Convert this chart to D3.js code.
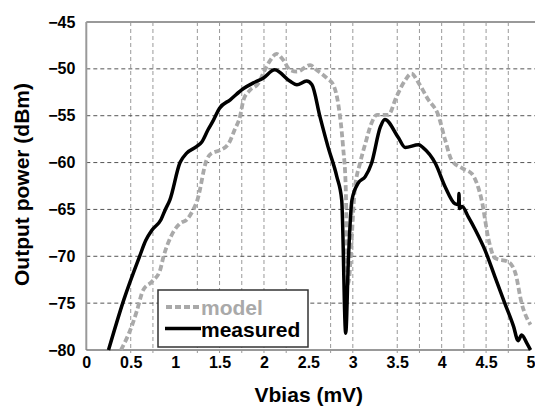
<!DOCTYPE html>
<html>
<head>
<meta charset="utf-8">
<script src="https://cdn.jsdelivr.net/npm/d3@7"></script>
<style>
  body { margin: 0; background: #fff; }
  svg text { font-family: "Liberation Sans", Arial, sans-serif; font-weight: bold; }
</style>
</head>
<body>
<svg id="chart" width="535" height="406"></svg>
<script>
// measured curve
const vbiasMeasured = [0.25, 0.42, 0.6, 0.67, 0.74, 0.84, 0.89, 0.94, 1.055, 1.13, 1.24, 1.3, 1.37, 1.43, 1.5, 1.62, 1.77, 1.88, 1.99, 2.12,
  2.29, 2.37, 2.48, 2.54, 2.63, 2.72, 2.82, 2.875, 2.92, 2.95, 2.99, 3.06, 3.14, 3.21, 3.31, 3.36, 3.51, 3.59, 3.74, 3.79,
  3.93, 4.04, 4.15, 4.19, 4.195, 4.2, 4.23, 4.3, 4.38, 4.49, 4.6, 4.71, 4.81, 4.86, 4.9, 4.96, 5.0]
const powerMeasured = [-80.0, -74.7, -70.0, -68.3, -67.2, -66.1, -65.0, -64.0, -60.0, -59.0, -58.3, -57.8, -56.5, -55.5, -54.2, -53.3, -52.1, -51.5, -51.0, -50.1,
  -51.3, -51.7, -51.3, -51.7, -55.1, -58.3, -61.5, -64.0, -78.2, -70.4, -64.0, -62.2, -61.5, -60.1, -56.2, -55.4, -57.3, -58.4, -58.1, -58.4,
  -60.1, -62.6, -64.4, -64.5, -63.3, -64.9, -64.7, -65.8, -67.2, -69.4, -72.2, -75.0, -77.5, -79.0, -78.4, -79.3, -80.0]

// model curve
const vbiasModel = [0.39, 0.51, 0.57, 0.64, 0.74, 0.83, 0.87, 0.92, 0.98, 1.055, 1.13, 1.2, 1.25, 1.355, 1.41, 1.5, 1.6, 1.67, 1.73, 1.77,
  1.84, 1.94, 2.01, 2.07, 2.14, 2.22, 2.29, 2.37, 2.52, 2.59, 2.71, 2.78, 2.84, 2.89, 2.92, 2.945, 3.025, 3.08, 3.14, 3.21,
  3.27, 3.4, 3.49, 3.59, 3.66, 3.74, 3.85, 3.96, 4.04, 4.11, 4.23, 4.34, 4.41, 4.45, 4.53, 4.6, 4.75, 4.83, 4.9, 5.0]
const powerModel = [-80.0, -77.5, -75.8, -73.6, -72.7, -71.5, -70.0, -68.6, -67.4, -66.5, -66.1, -65.1, -64.0, -59.7, -59.0, -58.7, -58.0, -56.5, -55.1, -53.3,
  -52.3, -51.5, -50.1, -49.1, -48.4, -49.1, -50.1, -50.3, -49.6, -50.1, -51.0, -51.7, -54.0, -58.3, -62.6, -73.0, -62.6, -60.1, -58.0, -55.8,
  -54.9, -54.9, -53.0, -51.2, -50.5, -51.5, -53.3, -54.9, -57.6, -59.7, -60.6, -61.2, -62.6, -64.0, -68.3, -70.2, -70.6, -71.8, -75.0, -77.3]

const xTicks = [0, 0.5, 1, 1.5, 2, 2.5, 3, 3.5, 4, 4.5, 5]
const xTickLabels = ['0', '0.5', '1', '1.5', '2', '2.5', '3', '3.5', '4', '4.5', '5']
const yTicks = [-45, -50, -55, -60, -65, -70, -75, -80]
const xGrid = [0.5, 0.75, 1.25, 1.5, 1.75, 2, 2.25, 2.75, 3, 3.5, 3.75, 4, 4.25, 4.5, 4.75]
const yGrid = [-50, -55, -60, -65, -70, -75]
const seriesNames = ['model', 'measured']

const margin = { top: 22, right: 4.5, bottom: 56, left: 86.3 }
const width = 535 - margin.left - margin.right
const height = 406 - margin.top - margin.bottom

const svg = d3.select('#chart')
const g = svg.append('g').attr('transform', `translate(${margin.left}, ${margin.top})`)

const xScale = d3.scaleLinear().domain([0, 5]).range([0, width])
const yScale = d3.scaleLinear().domain([-80, -45]).range([height, 0])

// grid
g.append('g')
  .selectAll('line')
  .data(xGrid)
  .enter()
  .append('line')
  .attr('x1', d => xScale(d)).attr('x2', d => xScale(d))
  .attr('y1', 0).attr('y2', height + 3)
  .attr('stroke', '#999')
  .attr('stroke-width', 1)
  .attr('stroke-dasharray', '4,3')

g.append('g')
  .selectAll('line')
  .data(yGrid)
  .enter()
  .append('line')
  .attr('x1', 0).attr('x2', width + 4.5)
  .attr('y1', d => yScale(d)).attr('y2', d => yScale(d))
  .attr('stroke', '#555')
  .attr('stroke-width', 1)
  .attr('stroke-dasharray', '4,3')

// frame
g.append('line').attr('x1', 0).attr('x2', width + 4.5).attr('y1', 0).attr('y2', 0)
  .attr('stroke', '#999').attr('stroke-width', 2)
g.append('line').attr('x1', 0).attr('x2', 0).attr('y1', 0).attr('y2', height)
  .attr('stroke', '#999').attr('stroke-width', 2)
g.append('line').attr('x1', 0).attr('x2', width).attr('y1', height).attr('y2', height)
  .attr('stroke', '#777').attr('stroke-width', 1.5)

// axes
const xAxis = d3.axisBottom(xScale).tickValues(xTicks).tickFormat((d, i) => xTickLabels[i]).tickSize(0).tickPadding(7)
g.append('g')
  .attr('class', 'x axis')
  .attr('transform', `translate(0,${height})`)
  .call(xAxis)
  .call(a => a.select('.domain').remove())
  .selectAll('text').attr('font-size', 16).attr('fill', '#000')

const yAxis = d3.axisLeft(yScale).tickValues(yTicks).tickSize(0).tickPadding(11)
g.append('g')
  .attr('class', 'y axis')
  .call(yAxis)
  .call(a => a.select('.domain').remove())
  .selectAll('text').attr('font-size', 16).attr('fill', '#000')

// curves
const line = d3.line()
  .x(d => xScale(d[0]))
  .y(d => yScale(d[1]))
  .curve(d3.curveMonotoneX)

g.append('path')
  .datum(vbiasModel.map((v, i) => [v, powerModel[i]]))
  .attr('fill', 'none')
  .attr('stroke', '#a9a9a9')
  .attr('stroke-width', 3.8)
  .attr('stroke-dasharray', '6,3')
  .attr('d', line)

g.append('path')
  .datum(vbiasMeasured.map((v, i) => [v, powerMeasured[i]]))
  .attr('fill', 'none')
  .attr('stroke', '#000')
  .attr('stroke-width', 3.5)
  .attr('stroke-linejoin', 'round')
  .attr('d', line)

// legend
const legend = svg.append('g').attr('transform', 'translate(158, 290)')
legend.append('rect')
  .attr('width', 150).attr('height', 57)
  .attr('fill', '#fff').attr('stroke', '#333').attr('stroke-width', 1.5)
legend.append('line')
  .attr('x1', 8).attr('x2', 42).attr('y1', 17).attr('y2', 17)
  .attr('stroke', '#a9a9a9').attr('stroke-width', 3.8).attr('stroke-dasharray', '6,3')
legend.append('line')
  .attr('x1', 7).attr('x2', 43).attr('y1', 38.5).attr('y2', 38.5)
  .attr('stroke', '#000').attr('stroke-width', 3.5)
legend.append('text').attr('x', 43).attr('y', 25).attr('font-size', 21).attr('fill', '#a9a9a9').text(seriesNames[0])
legend.append('text').attr('x', 43).attr('y', 46.5).attr('font-size', 21).attr('fill', '#000').text(seriesNames[1])

// axis titles
svg.append('text')
  .attr('transform', 'translate(29, 184.5) rotate(-90)')
  .attr('text-anchor', 'middle')
  .attr('font-size', 21)
  .text('Output power (dBm)')

svg.append('text')
  .attr('x', 308.8).attr('y', 401.5)
  .attr('text-anchor', 'middle')
  .attr('font-size', 21)
  .text('Vbias (mV)')
</script>
</body>
</html>
